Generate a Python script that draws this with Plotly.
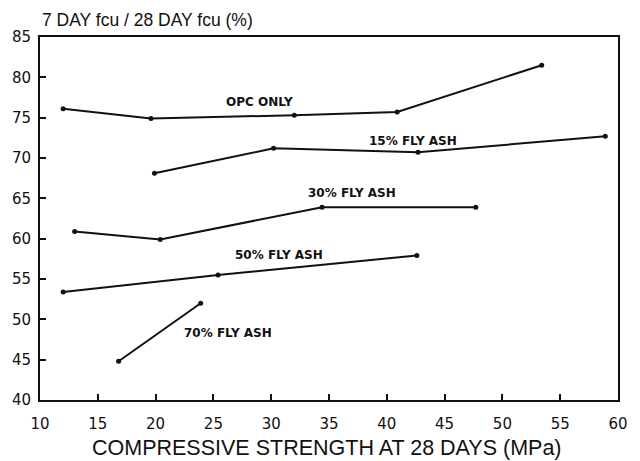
import plotly.graph_objects as go

# Compressive strength at 28 days (MPa) and 7/28-day strength ratio (%)
opc_x = [12.0, 19.6, 32.0, 40.9, 53.4]
opc_y = [76.1, 74.9, 75.3, 75.7, 81.5]

fa15_x = [19.9, 30.2, 42.7, 58.9]
fa15_y = [68.1, 71.2, 70.7, 72.7]

fa30_x = [13.0, 20.4, 34.4, 47.7]
fa30_y = [60.9, 59.9, 63.9, 63.9]

fa50_x = [12.0, 25.4, 42.6]
fa50_y = [53.4, 55.5, 57.9]

fa70_x = [16.8, 23.9]
fa70_y = [44.8, 52.0]

series_names = ["OPC ONLY", "15% FLY ASH", "30% FLY ASH", "50% FLY ASH", "70% FLY ASH"]
label_x = [29.0, 42.3, 37.0, 30.7, 26.3]
label_y = [76.9, 72.1, 65.7, 58.0, 48.3]

x_ticks = [10, 15, 20, 25, 30, 35, 40, 45, 50, 55, 60]
y_ticks = [40, 45, 50, 55, 60, 65, 70, 75, 80, 85]

ink = "#111111"

fig = go.Figure()
for name, xs, ys in zip(series_names,
                        [opc_x, fa15_x, fa30_x, fa50_x, fa70_x],
                        [opc_y, fa15_y, fa30_y, fa50_y, fa70_y]):
    fig.add_trace(go.Scatter(
        x=xs, y=ys, name=name, mode="lines+markers",
        line=dict(color=ink, width=2),
        marker=dict(color=ink, size=5),
        showlegend=False,
    ))

annotations = []
for name, lx, ly in zip(series_names, label_x, label_y):
    annotations.append(dict(
        x=lx, y=ly, xref="x", yref="y", text=name, showarrow=False,
        font=dict(family="DejaVu Sans", size=12, color=ink, weight="bold"),
        xanchor="center", yanchor="middle",
    ))

annotations.append(dict(
    x=0, y=1.047, xref="paper", yref="paper", text="7 DAY fcu / 28 DAY fcu (%)",
    showarrow=False, xanchor="left", yanchor="middle",
    font=dict(family="Liberation Sans", size=17.5, color=ink),
))
annotations.append(dict(
    x=0.4966, y=-0.132, xref="paper", yref="paper",
    text="COMPRESSIVE STRENGTH AT 28 DAYS (MPa)",
    showarrow=False, xanchor="center", yanchor="middle",
    font=dict(family="Liberation Sans", size=21.5, color=ink),
))

fig.update_layout(
    width=640, height=461,
    margin=dict(l=40, r=13, t=37, b=61),
    paper_bgcolor="white", plot_bgcolor="white",
    annotations=annotations,
)
fig.update_xaxes(
    range=[10, 60], tickvals=x_ticks, ticktext=[str(v) for v in x_ticks],
    showgrid=False, zeroline=False,
    showline=True, linecolor=ink, linewidth=2, mirror=True,
    ticks="inside", ticklen=6, tickwidth=2, tickcolor=ink,
    ticklabelstandoff=9,
    tickfont=dict(family="DejaVu Sans", size=15, color=ink),
)
fig.update_yaxes(
    range=[40, 85], tickvals=y_ticks, ticktext=[str(v) for v in y_ticks],
    showgrid=False, zeroline=False,
    showline=True, linecolor=ink, linewidth=2, mirror=True,
    ticks="inside", ticklen=6, tickwidth=2, tickcolor=ink,
    ticklabelstandoff=4,
    tickfont=dict(family="DejaVu Sans", size=15, color=ink),
)

fig.write_html("out.html")
